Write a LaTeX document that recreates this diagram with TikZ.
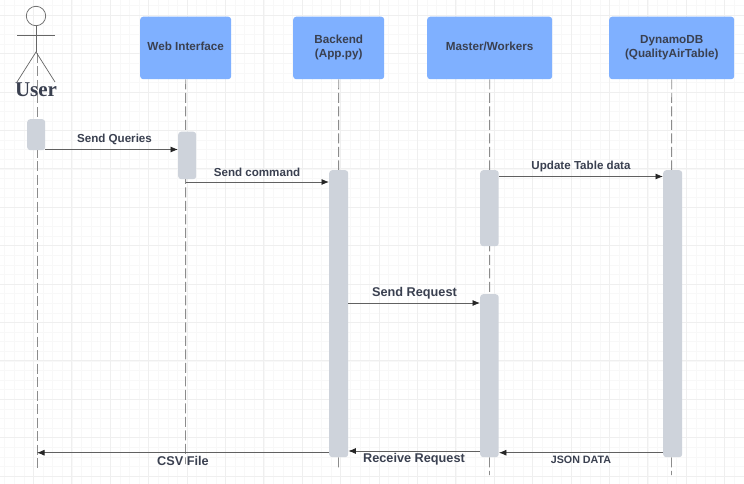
\documentclass[tikz,border=0pt]{standalone}
\usepackage{fontspec}
\setmainfont{Liberation Sans}
\newfontfamily\userfont{Liberation Serif}
\usetikzlibrary{arrows.meta}
\definecolor{blk}{HTML}{7FB0FF}
\definecolor{bar}{HTML}{CED3DB}
\definecolor{txt}{HTML}{3A4050}
\definecolor{gmin}{HTML}{F8F8F8}
\definecolor{gmaj}{HTML}{EFEFEF}
\tikzset{
 x=1pt,y=-1pt,
 actorbox/.style={draw=none,fill=blk,rounded corners=3pt,text=txt,font=\fontsize{11.7}{14}\selectfont\bfseries,align=center,inner sep=0pt,anchor=north west,minimum height=62.5pt},
 lifeline/.style={draw=black!45,line width=.9pt,dash pattern=on 10pt off 3.5pt},
 activation/.style={draw=none,fill=bar,rounded corners=3pt,inner sep=0pt,anchor=north west},
 msg/.style={draw=black!62,line width=.8pt,-{Latex[length=7.5pt,width=6pt,black!85]}},
 msgtext/.style={text=txt,font=\fontsize{11.6}{14}\selectfont\bfseries,inner sep=0pt},
 bigtext/.style={msgtext,font=\fontsize{12.7}{15}\selectfont\bfseries},
 smalltext/.style={msgtext,font=\fontsize{10.7}{12}\selectfont\bfseries},
 stick/.style={draw=black!60,line width=.7pt}
}
\newcommand{\uplabel}[1]{\raisebox{1.5pt}{\begin{tabular}{@{}c@{}}#1\end{tabular}}}
\newcommand{\barat}[6]{\node[activation,minimum width=#4pt,minimum height=#5pt] (#1) at (#2,#3) {};}
\begin{document}
\begin{tikzpicture}
\useasboundingbox (0,0) rectangle (744,484);
\fill[white] (0,0) rectangle (744,484);
% grid
\foreach \i in {0,...,78} \draw[gmin,line width=.7pt] ({4.7+9.6*\i},0) -- ({4.7+9.6*\i},484);
\foreach \i in {0,...,51} \draw[gmin,line width=.7pt] (0,{5.7+9.6*\i}) -- (744,{5.7+9.6*\i});
\foreach \i in {0,...,19} \draw[gmaj,line width=.9pt] ({33.5+38.4*\i},0) -- ({33.5+38.4*\i},484);
\foreach \i in {0,...,12} \draw[gmaj,line width=.9pt] (0,{15.3+38.4*\i}) -- (744,{15.3+38.4*\i});
% actor boxes
\node[actorbox,minimum width=91pt] (web) at (140,16.5) {\uplabel{Web Interface}};
\node[actorbox,minimum width=91pt] (back) at (293,16.5) {\uplabel{Backend\\(App.py)}};
\node[actorbox,minimum width=125pt] (mast) at (427,16.5) {\uplabel{Master/Workers}};
\node[actorbox,minimum width=125pt] (dyn) at (609,16.5) {\uplabel{DynamoDB\\(QualityAirTable)}};
% stick figure
\node[circle,draw=black!60,line width=.7pt,minimum size=19.4pt,inner sep=0pt] (head) at (36,16) {};
\coordinate (hip) at (36,52);
\coordinate (armL) at (17,35);
\coordinate (armR) at (55,35);
\coordinate (legL) at (17,82);
\coordinate (legR) at (55,82);
\coordinate (hipline) at (37,53);
\coordinate (userbot) at (37,469);
\coordinate (webbot) at (185.5,464);
\coordinate (backbot) at (338.5,468);
\coordinate (mastbot) at (489.5,475);
\coordinate (dynbot) at (671.5,475);
% lifelines
\draw[lifeline] (hipline) -- (userbot);
\draw[lifeline] (web.south) -- (webbot);
\draw[lifeline] (back.south) -- (backbot);
\draw[lifeline] (mast.south) -- (mastbot);
\draw[lifeline] (dyn.south) -- (dynbot);
\draw[stick] (head.south) -- (hip);
\draw[stick] (armL) -- (armR);
\draw[stick] (legL) -- (hip) -- (legR);
\node[text=txt,font=\userfont\fontsize{21}{23}\selectfont\bfseries,inner sep=0pt] (user) at (36,90) {User};
% activations
\barat{a1}{27}{119}{18}{31}{}
\barat{a2}{178}{131.5}{18}{47.5}{}
\barat{b1}{329}{170}{19}{287}{}
\barat{m1}{480}{170}{18.5}{76}{}
\barat{m2}{480}{294}{18.5}{163}{}
\barat{d1}{663}{170}{19}{287}{}
% messages
\draw[msg] (a1.east |- 0,149.5) -- (a2.west |- 0,149.5);
\draw[msg] (webbot |- 0,182) -- (b1.west |- 0,182);
\draw[msg] (m1.east |- 0,176.5) -- (d1.west |- 0,176.5);
\draw[msg] (b1.east |- 0,303) -- (m2.west |- 0,303);
\draw[msg] (b1.west |- 0,452.7) -- (hipline |- 0,452.7);
\draw[msg] (m2.west |- 0,451) -- (b1.east |- 0,451);
\draw[msg] (d1.west |- 0,452.7) -- (m2.east |- 0,452.7);
% labels
\node[msgtext] (l1) at (114.5,139.7) {Send Queries};
\node[msgtext] (l2) at (257,172.2) {Send command};
\node[msgtext] (l3) at (581,166.7) {Update Table data};
\node[bigtext] (l4) at (414.5,292.8) {Send Request};
\node[bigtext] (l5) at (183,460.5) {CSV File};
\node[bigtext] (l6) at (414,459.6) {Receive Request};
\node[smalltext] (l7) at (581,459.5) {JSON DATA};
\end{tikzpicture}
\end{document}
